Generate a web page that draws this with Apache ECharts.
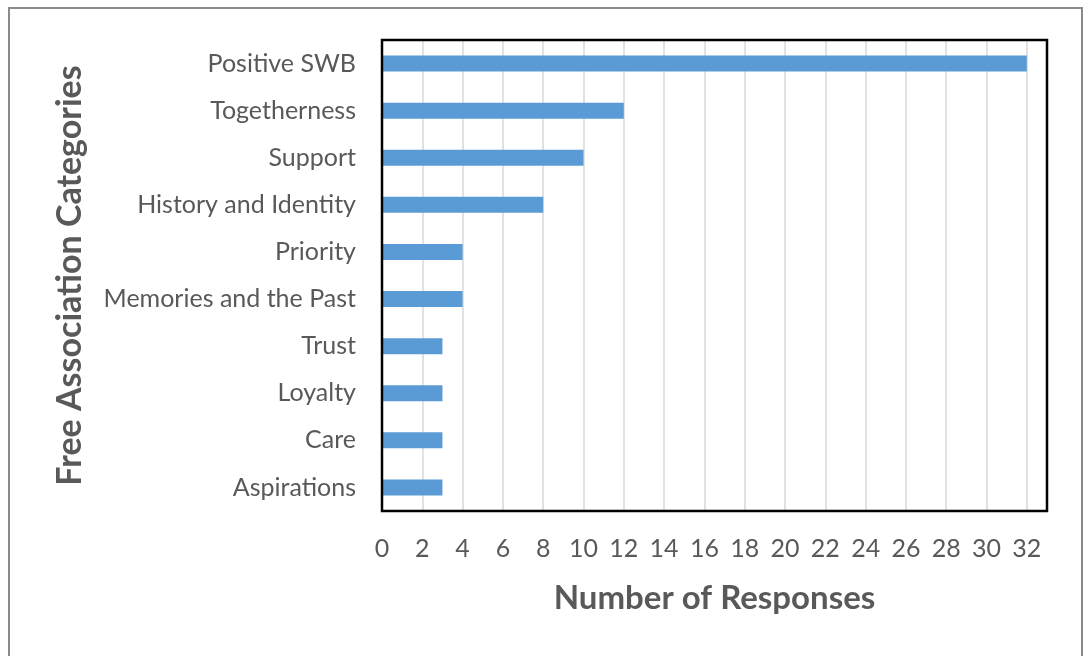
<!DOCTYPE html>
<html>
<head>
<meta charset="utf-8">
<script src="https://cdn.jsdelivr.net/npm/echarts@6/dist/echarts.min.js"></script>
<style>
  html, body { margin: 0; padding: 0; background: #fff; }
  #chart { width: 1091px; height: 656px; }
</style>
</head>
<body>
<div id="chart"></div>
<script>
// Free association categories and the number of responses in each
const categories = [
  'Positive SWB', 'Togetherness', 'Support', 'History and Identity', 'Priority',
  'Memories and the Past', 'Trust', 'Loyalty', 'Care', 'Aspirations'
];
const responses = [32, 12, 10, 8, 4, 4, 3, 3, 3, 3];
const xTicks = { min: 0, max: 33, step: 2 };

const W = 1091, H = 656;
const GRID = { left: 382, right: 44, top: 40, bottom: 145 };
const FONT = 'Lato, "Open Sans", sans-serif';
const TEXT = '#595959';

const chart = echarts.init(document.getElementById('chart'));

chart.setOption({
  backgroundColor: '#fff',
  animation: false,
  graphic: [
    {
      // outer frame of the figure
      type: 'rect',
      shape: { x: 9, y: 8, width: W - 18, height: H + 40 },
      style: { fill: 'none', stroke: '#8a8a8a', lineWidth: 2 },
      silent: true, z: 100
    },
    {
      // black box around the plot area, drawn above the gridlines
      type: 'rect',
      shape: {
        x: GRID.left, y: GRID.top,
        width: W - GRID.left - GRID.right, height: H - GRID.top - GRID.bottom
      },
      style: { fill: 'none', stroke: '#000', lineWidth: 2.5 },
      silent: true, z: 100
    }
  ],
  grid: Object.assign({ show: false }, GRID),
  xAxis: {
    type: 'value',
    min: xTicks.min, max: xTicks.max, interval: xTicks.step,
    name: 'Number of Responses',
    nameLocation: 'middle', nameGap: 71,
    nameTextStyle: { fontFamily: FONT, fontSize: 33, fontWeight: 'bold', color: TEXT },
    axisLine: { show: false },
    axisTick: { show: false },
    axisLabel: { fontFamily: FONT, fontSize: 25, color: TEXT, margin: 25, showMaxLabel: false },
    splitLine: { show: true, lineStyle: { color: '#d9d9d9', width: 1.5 } }
  },
  yAxis: {
    type: 'category',
    data: categories,
    inverse: true,
    name: 'Free Association Categories',
    nameLocation: 'middle', nameGap: 295,
    nameTextStyle: { fontFamily: FONT, fontSize: 34, fontWeight: 'bold', color: TEXT },
    axisLine: { show: false },
    axisTick: { show: false },
    axisLabel: { fontFamily: FONT, fontSize: 25, color: TEXT, margin: 26 },
    splitLine: { show: false }
  },
  series: [{
    type: 'bar',
    data: responses,
    barWidth: 16,
    itemStyle: { color: '#5b9bd5' }
  }]
});
</script>
</body>
</html>
